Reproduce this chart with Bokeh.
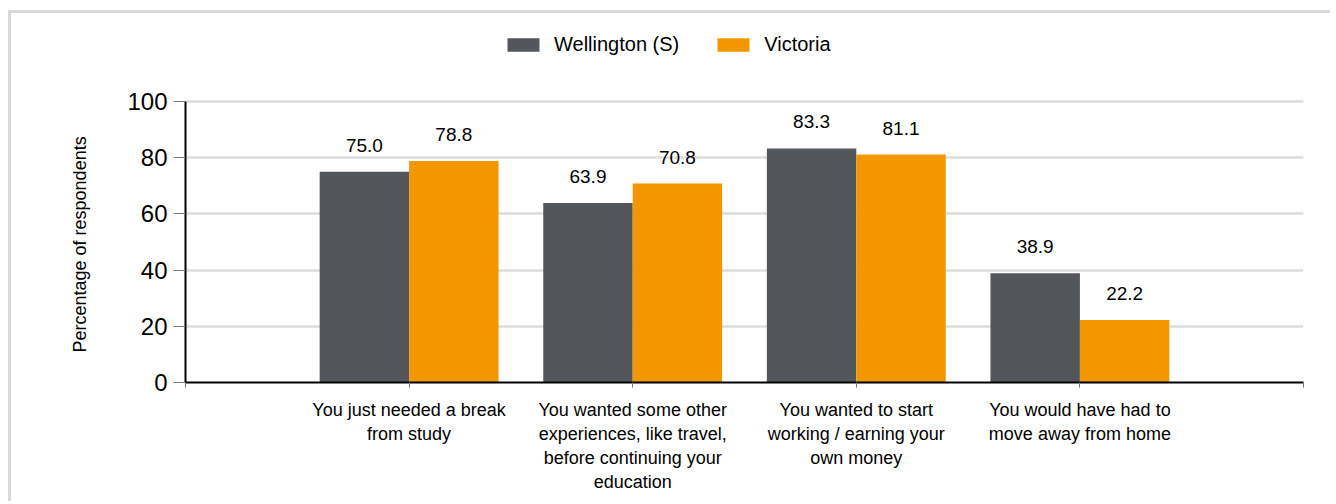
import numpy as np
from bokeh.plotting import figure
from bokeh.models import ColumnDataSource, Legend, LegendItem, FixedTicker, Range1d, LabelSet
from bokeh.core.properties import value
from bokeh.embed import file_html
from bokeh.resources import INLINE

categories = [
    "You just needed a break\nfrom study",
    "You wanted some other\nexperiences, like travel,\nbefore continuing your\neducation",
    "You wanted to start\nworking / earning your\nown money",
    "You would have had to\nmove away from home",
]
series_names = ["Wellington (S)", "Victoria"]
wellington = [75.0, 63.9, 83.3, 38.9]
victoria = [78.8, 70.8, 81.1, 22.2]
y_ticks = [0, 20, 40, 60, 80, 100]
y_title = "Percentage of respondents"

GRAY = "#53565a"
ORANGE = "#f39700"
FONT = "Liberation Sans"

pos = np.arange(1, len(categories) + 1)

src_w = ColumnDataSource(dict(x=pos - 0.2, top=wellington, lbl=[f"{v:.1f}" for v in wellington]))
src_v = ColumnDataSource(dict(x=pos + 0.2, top=victoria, lbl=[f"{v:.1f}" for v in victoria]))

# frame extends to the top of the canvas so the legend sits inside it;
# the visible value axis is limited to 0..100 by axis bounds
p = figure(width=1322, height=491, output_backend="svg", toolbar_location=None,
           x_range=Range1d(0, len(categories) + 1), y_range=Range1d(0, 131.3),
           title=y_title, title_location="left",
           min_border_left=174, min_border_right=30, min_border_top=0, min_border_bottom=122)
p.title.align = "left"
p.title.offset = 30
p.title.standoff = 70
p.title.text_font = FONT
p.title.text_font_size = "18px"
p.title.text_font_style = "normal"
p.title.text_color = "black"
p.styles = {"margin-left": "8px", "margin-top": "10px",
            "border-top": "3px solid #d9d9d9", "border-left": "3px solid #d9d9d9"}
p.outline_line_color = None

rw = p.vbar(x="x", top="top", width=0.4, source=src_w, fill_color=GRAY, line_color=None)
rv = p.vbar(x="x", top="top", width=0.4, source=src_v, fill_color=ORANGE, line_color=None)

for src in (src_w, src_v):
    p.add_layout(LabelSet(x="x", y="top", text="lbl", source=src, text_align="center",
                          text_baseline="bottom", y_offset=20, text_font=value(FONT),
                          text_font_size="19px", text_color="black"))

# axes
p.xaxis.ticker = FixedTicker(ticks=list(range(0, len(categories) + 2)))
overrides = {0: "", len(categories) + 1: ""}
for i, c in enumerate(categories):
    overrides[i + 1] = c
p.xaxis.major_label_overrides = overrides
p.xaxis.major_label_text_font = FONT
p.xaxis.major_label_text_font_size = "18px"
p.xaxis.major_label_text_color = "black"
p.xaxis.major_label_standoff = 12
p.xaxis.axis_line_width = 2
p.xaxis.axis_line_color = "black"
p.xaxis.major_tick_out = 5
p.xaxis.major_tick_in = 0
p.xaxis.major_tick_line_color = "#777777"
p.xaxis.minor_tick_line_color = None

p.yaxis.ticker = FixedTicker(ticks=y_ticks)
p.yaxis.bounds = (0, 100)
p.yaxis.major_label_text_font = FONT
p.yaxis.major_label_text_font_size = "24px"
p.yaxis.major_label_text_color = "black"
p.yaxis.major_label_standoff = 6
p.yaxis.axis_line_width = 2
p.yaxis.axis_line_color = "black"
p.yaxis.major_tick_out = 12
p.yaxis.major_tick_in = 0
p.yaxis.major_tick_line_color = "#777777"
p.yaxis.minor_tick_line_color = None

p.xgrid.grid_line_color = None
p.ygrid.grid_line_color = "#dddddd"
p.ygrid.grid_line_width = 2.5

legend = Legend(items=[LegendItem(label=series_names[0], renderers=[rw]),
                       LegendItem(label=series_names[1], renderers=[rv])],
                orientation="horizontal", location=(318, 326),
                label_text_font=FONT, label_text_font_size="20px", label_height=20,
                label_text_color="black",
                glyph_width=40, glyph_height=17, label_standoff=11, spacing=34,
                padding=0, margin=0, border_line_color=None, background_fill_alpha=0)
p.add_layout(legend, "center")

open("out.html", "w").write(file_html(p, INLINE))
